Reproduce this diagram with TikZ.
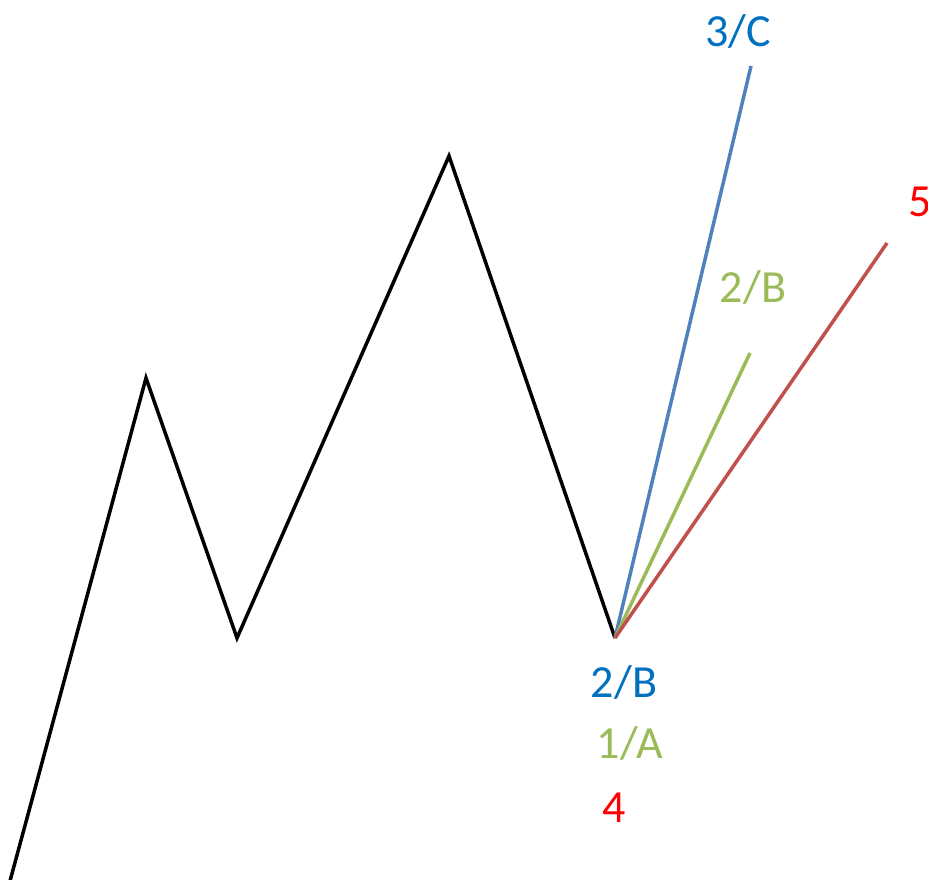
\documentclass[tikz,border=0pt]{standalone}
\usepackage{fontspec}
\setmainfont{Carlito}
\definecolor{lblue}{HTML}{4F81BD}
\definecolor{lgreen}{HTML}{9BBB59}
\definecolor{lred}{HTML}{C0504D}
\definecolor{tblue}{HTML}{0070C0}
\definecolor{tred}{HTML}{FF0000}
\begin{document}
\begin{tikzpicture}[x=1pt,y=-1pt,
  wave/.style={line width=3.5pt,line join=miter},
  lbl/.style={inner sep=0pt,font=\fontsize{46}{46}\selectfont}]
\useasboundingbox (0,0) rectangle (928,879);
\coordinate (p0) at (10,881);
\coordinate (p1) at (146,378);
\coordinate (p2) at (237,638);
\coordinate (p3) at (449,156);
\coordinate (p4) at (615,638);
\coordinate (c) at (751,66);
\coordinate (b) at (750,353);
\coordinate (f) at (887,243);
\draw[wave,black] (p0) -- (p1) -- (p2) -- (p3) -- (p4);
\draw[wave,lblue] (p4) -- (c);
\draw[wave,lgreen] (p4) -- (b);
\draw[wave,lred] (p4) -- (f);
\node[lbl,text=tblue] (lc) at (738,32) {3/C};
\node[lbl,text=tred,anchor=west] (l5) at (908,202) {5};
\node[lbl,text=lgreen] (lb) at (753,287) {2/B};
\node[lbl,text=tblue] (l2) at (624,682) {2/B};
\node[lbl,text=lgreen] (l1) at (630,743) {1/A};
\node[lbl,text=tred] (l4) at (614,808) {4};
\end{tikzpicture}
\end{document}
